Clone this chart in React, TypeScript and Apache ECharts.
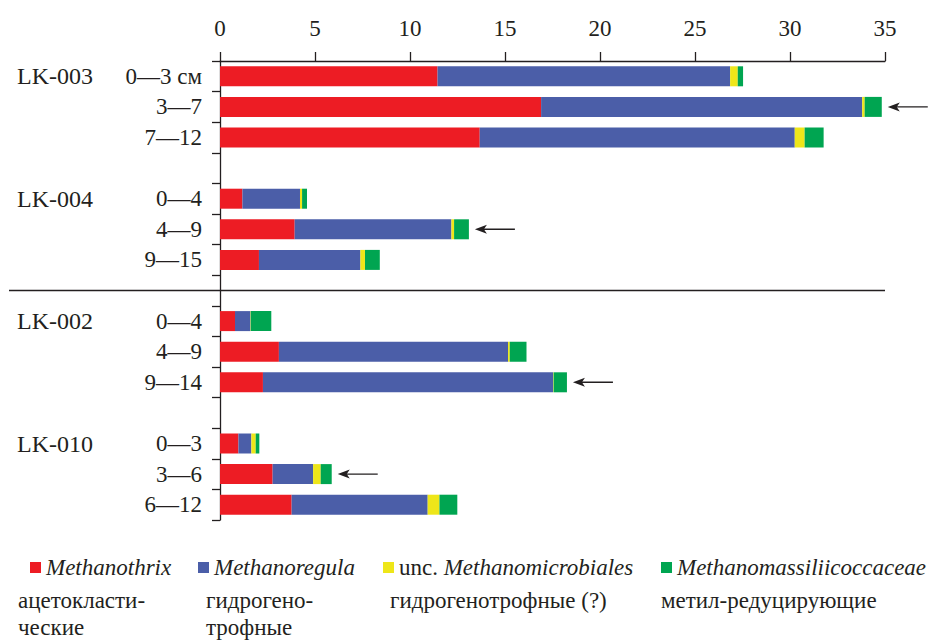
import React, { useEffect, useRef } from 'react';
import * as echarts from 'echarts';

// Depth labels (rows, top to bottom); '' marks a blank spacer row between sites
const rowLabels = ['0—3 см', '3—7', '7—12', '', '0—4', '4—9', '9—15', '', '0—4', '4—9', '9—14', '', '0—3', '3—6', '6—12'];
const groupLabels = ['LK-003', '', '', '', 'LK-004', '', '', '', 'LK-002', '', '', '', 'LK-010', '', ''];

const seriesNames = ['Methanothrix', 'Methanoregula', 'unc. Methanomicrobiales', 'Methanomassiliicoccaceae'];
const seriesColors = ['#ED1C24', '#4B5EA8', '#EEE619', '#00A551'];

const methanothrix = [11.45, 16.9, 13.67, null, 1.18, 3.93, 2.05, null, 0.79, 3.1, 2.26, null, 0.97, 2.77, 3.77];
const methanoregula = [15.4, 16.9, 16.58, null, 3.03, 8.25, 5.34, null, 0.81, 12.06, 15.27, null, 0.68, 2.13, 7.16];
const uncMethanomicrobiales = [0.4, 0.13, 0.52, null, 0.11, 0.14, 0.24, null, 0.02, 0.09, 0.03, null, 0.23, 0.4, 0.62];
const methanomassiliicoccaceae = [0.28, 0.9, 1.0, null, 0.26, 0.78, 0.78, null, 1.08, 0.88, 0.7, null, 0.19, 0.58, 0.94];

const xMin = 0;
const xMax = 35;
const xInterval = 5;

const arrowRows = [1, 5, 10, 13];
const separatorRow = 7;

const functionLabels = [
  ['ацетокласти-', 'ческие'],
  ['гидрогено-', 'трофные'],
  ['гидрогенотрофные (?)'],
  ['метил-редуцирующие'],
];

const FONT = '"Liberation Serif", "DejaVu Serif", serif';
const INK = '#231f20';

export default function App() {
  const ref = useRef<HTMLDivElement>(null);

  useEffect(() => {
    document.body.style.margin = '0';
    const chart = echarts.init(ref.current!, null, { renderer: 'svg' });
    const ids = rowLabels.map((_, i) => 'r' + i);
    const allData = [methanothrix, methanoregula, uncMethanomicrobiales, methanomassiliicoccaceae];

    const legendLeft = [30, 198, 383, 661];

    chart.setOption({
      animation: false,
      grid: { left: 220, right: 43, top: 61, bottom: 121 },
      xAxis: {
        type: 'value',
        position: 'top',
        min: xMin,
        max: xMax,
        interval: xInterval,
        splitLine: { show: false },
        axisLine: { show: true, lineStyle: { color: INK, width: 1.3 } },
        axisTick: { show: true, length: 9, lineStyle: { color: INK, width: 1.3 } },
        axisLabel: { fontFamily: FONT, fontSize: 23, color: INK, margin: 21 },
      },
      yAxis: [
        {
          type: 'category',
          data: ids,
          inverse: true,
          position: 'left',
          axisLine: { show: true, lineStyle: { color: INK, width: 1.3 } },
          axisTick: { show: true, length: 8, interval: 0, lineStyle: { color: INK, width: 1.3 } },
          axisLabel: {
            interval: 0,
            margin: 18,
            fontFamily: FONT,
            fontSize: 23,
            color: INK,
            formatter: (_v: string, idx: number) => rowLabels[idx],
          },
        },
        {
          type: 'category',
          data: ids,
          inverse: true,
          position: 'left',
          axisLine: { show: false },
          axisTick: { show: false },
          axisLabel: {
            interval: 0,
            margin: 203,
            align: 'left',
            fontFamily: FONT,
            fontSize: 24,
            color: INK,
            formatter: (_v: string, idx: number) => groupLabels[idx],
          },
        },
      ],
      legend: seriesNames.map((n, i) => ({
        data: [n],
        left: legendLeft[i],
        top: 556,
        padding: 0,
        icon: 'rect',
        itemWidth: 11,
        itemHeight: 11,
        selectedMode: false,
        formatter: (name: string) =>
          name.startsWith('unc. ') ? '{n|unc. }{i|' + name.slice(5) + '}' : '{i|' + name + '}',
        textStyle: {
          fontFamily: FONT,
          fontSize: 23,
          color: INK,
          rich: {
            n: { fontFamily: FONT, fontSize: 23, color: INK, fontStyle: 'normal' },
            i: { fontFamily: FONT, fontSize: 23, color: INK, fontStyle: 'italic' },
          },
        },
      })),
      series: seriesNames.map((n, i) => ({
        type: 'bar',
        name: n,
        stack: 'total',
        data: allData[i],
        barWidth: 20,
        xAxisIndex: 0,
        yAxisIndex: 0,
        itemStyle: { color: seriesColors[i] },
        emphasis: { disabled: true },
      })),
    });

    const g: any[] = [];
    const ySep = chart.convertToPixel({ yAxisIndex: 0 }, separatorRow) as number;
    const xRight = chart.convertToPixel({ xAxisIndex: 0 }, xMax) as number;
    g.push({
      type: 'line',
      shape: { x1: 9, y1: ySep, x2: xRight, y2: ySep },
      style: { stroke: INK, lineWidth: 1.3 },
    });

    arrowRows.forEach((r) => {
      const total = allData.reduce((s, arr) => s + ((arr[r] as number) || 0), 0);
      const x0 = (chart.convertToPixel({ xAxisIndex: 0 }, total) as number) + 6;
      const y = chart.convertToPixel({ yAxisIndex: 0 }, r) as number;
      g.push({
        type: 'line',
        shape: { x1: x0 + 8, y1: y, x2: x0 + 40, y2: y },
        style: { stroke: INK, lineWidth: 1.4 },
      });
      g.push({
        type: 'polygon',
        shape: { points: [[x0, y], [x0 + 12, y - 4.5], [x0 + 9, y], [x0 + 12, y + 4.5]] },
        style: { fill: INK },
      });
    });

    const fx = [18, 206, 390, 661];
    functionLabels.forEach((lines, i) => {
      lines.forEach((t, j) => {
        g.push({
          type: 'text',
          x: fx[i],
          y: 600 + j * 27,
          style: { text: t, fontFamily: FONT, fontSize: 23, fill: INK, verticalAlign: 'middle', align: 'left' },
        });
      });
    });

    chart.setOption({ graphic: g });

    return () => chart.dispose();
  }, []);

  return <div ref={ref} style={{ width: 928, height: 641 }} />;
}
